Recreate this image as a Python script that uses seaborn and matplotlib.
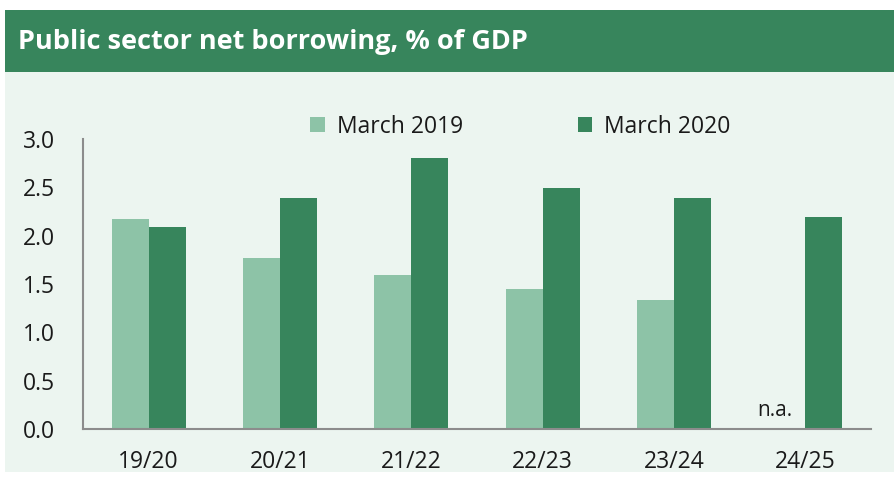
import matplotlib
matplotlib.use("Agg")
import matplotlib.pyplot as plt
import seaborn as sns
import pandas as pd
import numpy as np
from matplotlib.patches import Rectangle

categories = ["19/20", "20/21", "21/22", "22/23", "23/24", "24/25"]
march_2019 = [2.17, 1.77, 1.59, 1.45, 1.33, np.nan]
march_2020 = [2.09, 2.39, 2.80, 2.49, 2.39, 2.19]
series = ["March 2019", "March 2020"]
title = "Public sector net borrowing, % of GDP"

df = pd.DataFrame({
    "year": categories * 2,
    "value": march_2019 + march_2020,
    "series": [series[0]] * len(categories) + [series[1]] * len(categories),
})

sns.set_style("white")
plt.rcParams["font.family"] = ["Open Sans", "DejaVu Sans"]

LIGHT = "#8dc3a7"
DARK = "#37855c"
BG = "#ecf5f0"
GREY = "#8c8c8c"
TXT = "#1a1a1a"

fig = plt.figure(figsize=(8.95, 4.78), dpi=100)
fig.patch.set_facecolor("white")
# panel background
fig.patches.append(Rectangle((5/895, 6/478), 890/895, 400/478, transform=fig.transFigure,
                             facecolor=BG, edgecolor="none", zorder=-10))
# title banner
fig.patches.append(Rectangle((5/895, 406/478), 890/895, 62/478, transform=fig.transFigure,
                             facecolor=DARK, edgecolor="none", zorder=-10))
fig.text(18/895, 436/478, title, color="white", fontsize=19.5, fontweight="bold",
         va="center", ha="left")

ax = fig.add_axes([83/895, 49/478, 788/895, 290/478])
ax.set_zorder(5)
ax.set_facecolor("none")
sns.barplot(data=df, x="year", y="value", hue="series", hue_order=series,
            order=categories, palette=[LIGHT, DARK], width=0.565, saturation=1,
            linewidth=0, ax=ax, legend=True)

ax.set_xlim(-0.5, len(categories) - 0.5)
ax.set_ylim(0, 3.0)
ax.set_yticks(np.arange(0, 3.01, 0.5))
ax.set_yticklabels([f"{v:.1f}" for v in np.arange(0, 3.01, 0.5)])
ax.set_xticks(np.arange(-0.5, len(categories), 1.0))
ax.set_xticklabels([])
ax.set_xticks(np.arange(len(categories)), minor=True)
ax.set_xticklabels(categories, minor=True)
ax.tick_params(axis="x", which="major", length=8, width=1.5, color=GREY, direction="out")
ax.tick_params(axis="x", which="minor", length=0, pad=15, labelsize=16.5, labelcolor=TXT)
ax.tick_params(axis="y", length=8, width=1.5, color=GREY, direction="out", labelsize=16.5,
               labelcolor=TXT, pad=12)
ax.set_xlabel("")
ax.set_ylabel("")
for s in ["top", "right"]:
    ax.spines[s].set_visible(False)
for s in ["left", "bottom"]:
    ax.spines[s].set_color(GREY)
    ax.spines[s].set_linewidth(1.5)

ax.text(len(categories) - 1 - 0.23, 0.08, "n.a.", ha="center", va="bottom",
        fontsize=15, color=TXT)

leg = ax.legend(loc="center", bbox_to_anchor=(0.555, 1.043), ncol=2, frameon=False,
                fontsize=16.5, handlelength=0.65, handleheight=0.65, handletextpad=0.5,
                columnspacing=5.0, labelcolor=TXT, borderpad=0)

fig.savefig("out.png", dpi=100, facecolor=fig.get_facecolor())
